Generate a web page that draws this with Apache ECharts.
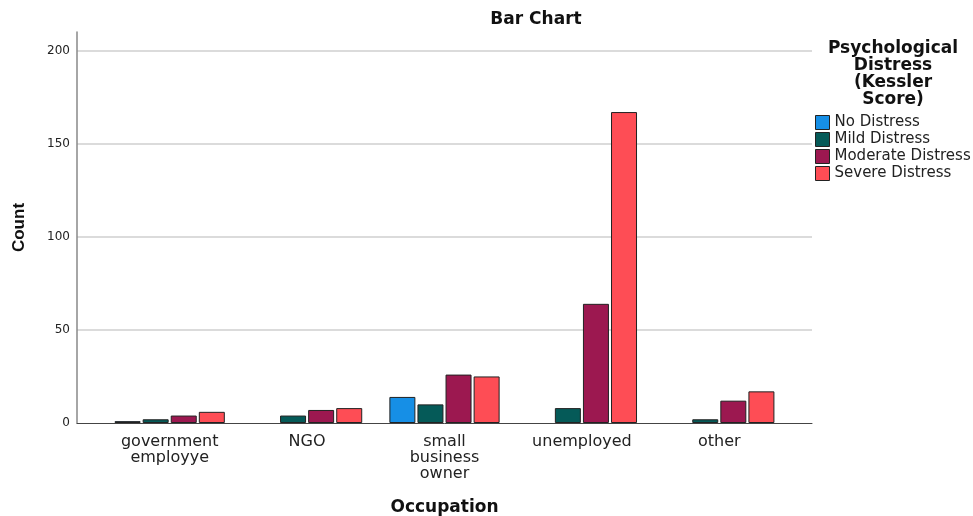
<!DOCTYPE html>
<html><head><meta charset="utf-8">
<script src="https://cdn.jsdelivr.net/npm/echarts@6/dist/echarts.min.js"></script>
<style>html,body{margin:0;padding:0;background:#fff}#c{width:973px;height:516px}</style>
</head><body><div id="c"></div>
<script>
const categories = ['government\nemployye', 'NGO', 'small\nbusiness\nowner', 'unemployed', 'other'];
const noDistress = [1, null, 14, null, null];
const mildDistress = [2, 4, 10, 8, 2];
const moderateDistress = [4, 7, 26, 64, 12];
const severeDistress = [6, 8, 25, 167, 17];
const seriesNames = ['No Distress', 'Mild Distress', 'Moderate Distress', 'Severe Distress'];
const seriesColors = ['#168fe6', '#055a58', '#9c1850', '#fe4d55'];
const yTicks = {min: 0, max: 210, interval: 50};

const font = 'DejaVu Sans, sans-serif';
const chart = echarts.init(document.getElementById('c'));
const values = [noDistress, mildDistress, moderateDistress, severeDistress];
const series = values.map((d, i) => ({
  name: seriesNames[i], type: 'bar', data: d, xAxisIndex: 0, yAxisIndex: 0,
  barWidth: 26, barGap: '8%',
  itemStyle: {color: seriesColors[i], borderColor: '#222', borderWidth: 1},
  emphasis: {disabled: true}
}));
chart.setOption({
  animation: false,
  title: [
    {text: 'Bar Chart', left: 531, top: 6, textAlign: 'center',
     textStyle: {fontFamily: font, fontSize: 17, fontWeight: 'bold', color: '#111'}},
    {text: 'Psychological\nDistress\n(Kessler\nScore)', left: 888, top: 35, textAlign: 'center',
     textStyle: {fontFamily: font, fontSize: 17, fontWeight: 'bold', color: '#111', lineHeight: 17}}
  ],
  legend: {
    orient: 'vertical', left: 815, top: 115, padding: 0, itemWidth: 14, itemHeight: 14, itemGap: 2,
    icon: 'rect', data: seriesNames,
    itemStyle: {borderColor: '#222', borderWidth: 1},
    textStyle: {fontFamily: font, fontSize: 15, lineHeight: 14, color: '#222', padding: [0, 0, 0, 0]}
  },
  grid: [
    {left: 101, right: 185, top: 32, bottom: 93, containLabel: false, outerBoundsMode: 'none'},
    {left: 77, right: 161, top: 32, bottom: 93, containLabel: false, outerBoundsMode: 'none'}
  ],
  xAxis: [
    {type: 'category', gridIndex: 0, data: categories,
     axisLine: {show: false}, axisTick: {show: false},
     axisLabel: {fontFamily: font, fontSize: 16, color: '#222', lineHeight: 16, margin: 11},
     name: 'Occupation', nameLocation: 'middle', nameGap: 76,
     nameTextStyle: {fontFamily: font, fontSize: 17, fontWeight: 'bold', color: '#111'}},
    {type: 'value', gridIndex: 1, min: 0, max: 1, show: true,
     axisLine: {show: true, lineStyle: {color: '#444', width: 1}}, axisTick: {show: false},
     axisLabel: {show: false}, splitLine: {show: false}}
  ],
  yAxis: [
    {type: 'value', gridIndex: 0, min: yTicks.min, max: yTicks.max, interval: yTicks.interval,
     axisLine: {show: false}, axisTick: {show: false}, axisLabel: {show: false}, splitLine: {show: false}},
    {type: 'value', gridIndex: 1, min: yTicks.min, max: yTicks.max, interval: yTicks.interval,
     axisLine: {show: true, lineStyle: {color: '#888', width: 1.5}}, axisTick: {show: false},
     axisLabel: {fontFamily: font, fontSize: 12, color: '#222', margin: 7, showMaxLabel: false},
     splitLine: {show: true, showMaxLine: false, showMinLine: false, lineStyle: {color: '#cfcfcf', width: 1.5}},
     name: 'Count', nameLocation: 'middle', nameGap: 49, nameRotate: 90,
     nameTextStyle: {fontFamily: 'Liberation Sans, Arial, sans-serif', fontSize: 17, fontWeight: 'bold', color: '#111'}}
  ],
  series: series
});
</script></body></html>
